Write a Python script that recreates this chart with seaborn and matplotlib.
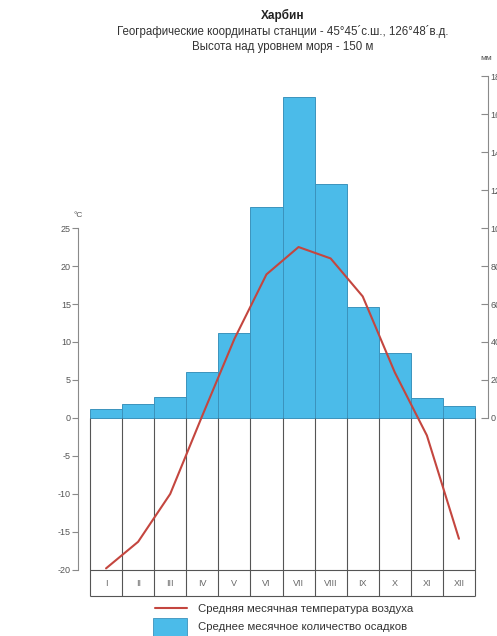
import numpy as np
import pandas as pd
import seaborn as sns
import matplotlib.pyplot as plt

# Harbin climate data
months = ["I", "II", "III", "IV", "V", "VI", "VII", "VIII", "IX", "X", "XI", "XII"]
temperature = [-19.8, -16.3, -10.0, 0.3, 10.4, 18.9, 22.5, 21.0, 16.0, 6.0, -2.3, -15.9]
precipitation = [4.5, 7.5, 11, 24, 44.6, 111, 169, 123, 58.6, 34.4, 10.5, 6.3]
temp_ticks = [-20, -15, -10, -5, 0, 5, 10, 15, 20, 25]
precip_ticks = [0, 20, 40, 60, 80, 100, 120, 140, 160, 180]

df = pd.DataFrame({"month": months, "idx": np.arange(len(months)),
                   "temp": temperature, "precip": precipitation})

sns.set_style("white")
plt.rcParams['font.family'] = ['Liberation Sans', 'DejaVu Sans']
plt.rcParams['axes.unicode_minus'] = False

fig = plt.figure(figsize=(4.97, 6.36), dpi=100)
ax = fig.add_axes([78 / 497, 38 / 636, 410 / 497, 531 / 636])
ax2 = ax.twinx()

grey = "#555555"
t_lo, t_hi = -23.7, 46.2

# precipitation bars
sns.barplot(data=df, x="month", y="precip", ax=ax2, width=1.0, color="#4bbbe9",
            saturation=1, edgecolor="#3b93bd", linewidth=0.7)
ax2.set_ylim(t_lo * 4, t_hi * 4)

# temperature line
sns.lineplot(data=df, x="idx", y="temp", ax=ax, color="#c4463f", linewidth=1.5)
ax.set_ylim(t_lo, t_hi)
ax.set_zorder(ax2.get_zorder() + 1)
ax.patch.set_visible(False)

n = len(months)
x_lo, x_hi = -0.874, n - 0.5 + 0.405
ax.set_xlim(x_lo, x_hi)
ax2.set_xlim(x_lo, x_hi)

# month table below zero
edges = np.arange(n + 1) - 0.5
ax.vlines(edges, -23.5, 0, color=grey, linewidth=0.8, zorder=1)
ax.hlines([-20, -23.5], -0.5, n - 0.5, color=grey, linewidth=0.8, zorder=1)
for i, m in enumerate(months):
    ax.text(i, -21.77, m, ha="center", va="center", fontsize=6.5, color="#666666")

# axes styling
for a in (ax, ax2):
    for s in ("top", "bottom"):
        a.spines[s].set_visible(False)
    a.set_xlabel("")
    a.set_ylabel("")
    a.set_xticks([])
ax.spines["right"].set_visible(False)
ax2.spines["left"].set_visible(False)
ax.spines["left"].set_bounds(-20, 25)
ax.spines["left"].set_color("#8a8a8a")
ax2.spines["right"].set_bounds(0, 180)
ax2.spines["right"].set_color("#8a8a8a")

ax.set_yticks(temp_ticks)
ax.tick_params(axis="y", direction="out", length=4, width=0.8, color="#8a8a8a",
               labelsize=6.5, labelcolor=grey, pad=1)
ax2.set_yticks(precip_ticks)
ax2.tick_params(axis="y", direction="in", length=5, width=0.8, color="#8a8a8a",
                labelsize=6.5, labelcolor=grey, pad=2)

ax.text(x_lo, 26.6, "°C", ha="center", va="center", fontsize=6, color=grey)
ax2.text(11.66, 189.5, "мм", ha="left", va="center", fontsize=6, color=grey)

# titles
fig.text(283 / 497, 1 - 15 / 636, "Харбин", ha="center", va="center",
         fontsize=8.5, fontweight="bold", color="#222222")
fig.text(283 / 497, 1 - 31 / 636,
         "Географические координаты станции - 45°45´с.ш., 126°48´в.д.",
         ha="center", va="center", fontsize=8.3, color="#333333")
fig.text(283 / 497, 1 - 47 / 636, "Высота над уровнем моря - 150 м",
         ha="center", va="center", fontsize=8.3, color="#333333")

# legend
fig.add_artist(plt.Line2D([155 / 497, 187 / 497], [1 - 608 / 636, 1 - 608 / 636],
                          color="#c4463f", linewidth=1.5))
fig.add_artist(plt.Rectangle((153 / 497, 1 - 636 / 636), 34 / 497, 18 / 636,
                             facecolor="#4bbbe9", edgecolor="#3b93bd", linewidth=0.6))
fig.text(198 / 497, 1 - 609 / 636, "Средняя месячная температура воздуха",
         ha="left", va="center", fontsize=8.2, color="#333333")
fig.text(198 / 497, 1 - 627 / 636, "Среднее месячное количество осадков",
         ha="left", va="center", fontsize=8.2, color="#333333")

fig.savefig("out.png", dpi=100)
